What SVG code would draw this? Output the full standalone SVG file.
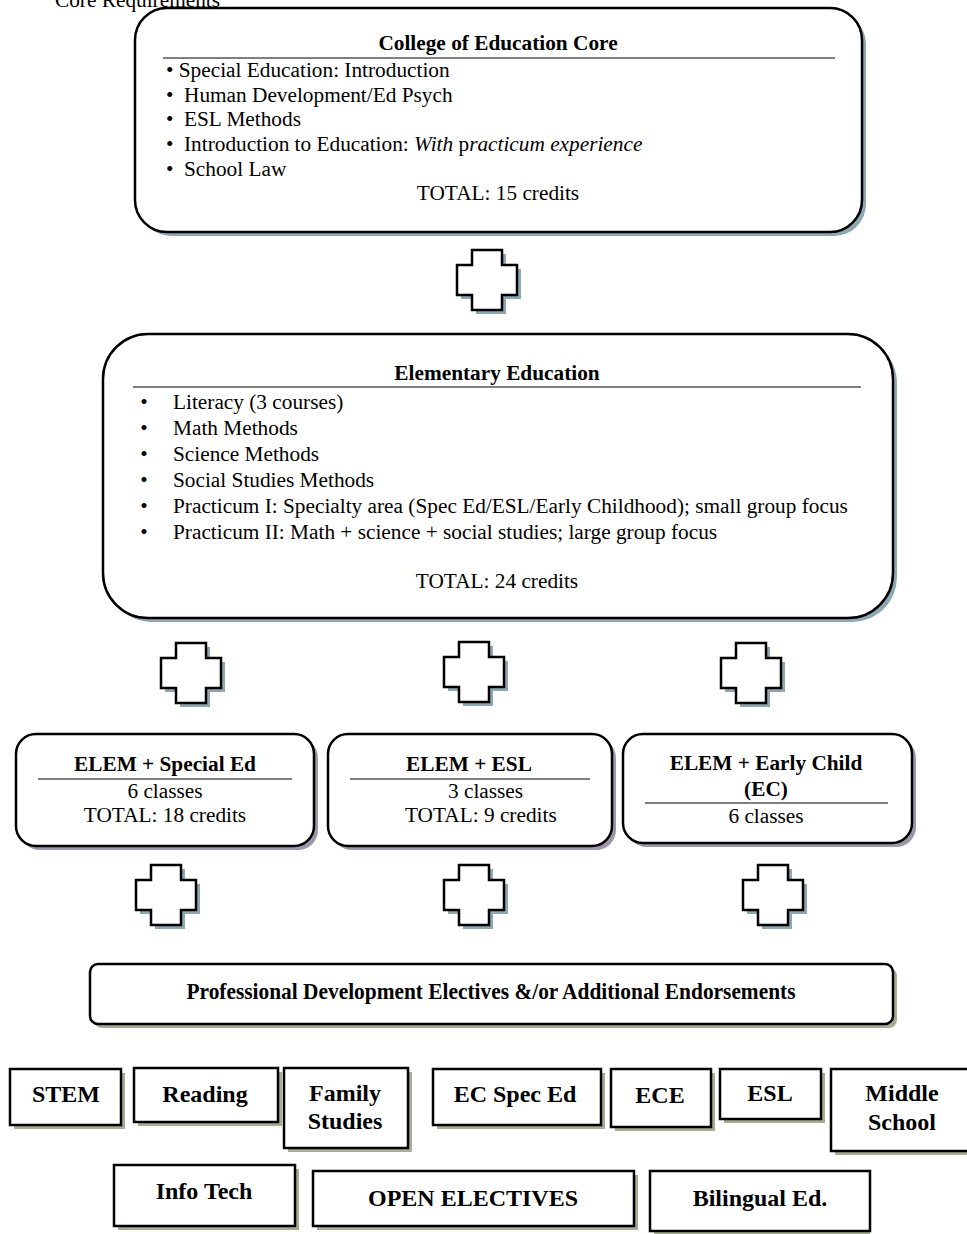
<svg xmlns="http://www.w3.org/2000/svg" width="967" height="1234" viewBox="0 0 967 1234">
<defs>
<style>
text{font-family:"Liberation Serif","Times New Roman",serif;font-size:21.3px;fill:#000}
.b{font-weight:bold}
.c{text-anchor:middle}
.i{font-style:italic}
.big{font-size:24px;font-weight:bold;text-anchor:middle}
.box{fill:#fff;stroke:#000;stroke-width:2.5}
.sh1{fill:#8ea7b1}
.sh2{fill:#9c98aa}
.sh3{fill:#a5ad92}
.rule{stroke:#555;stroke-width:1.5}
.plus{fill:#fff;stroke:#000;stroke-width:2.5;stroke-linejoin:miter}
.plush{fill:#8fa8b0}
</style>
<path id="plusShape" d="M-15,-30 h30 v15 h15 v30 h-15 v15 h-30 v-15 h-15 v-30 h15 z"/>
</defs>
<rect width="967" height="1234" fill="#fff"/>

<text x="55" y="7">Core Requirements</text>

<g id="core">
<rect class="sh1" x="139" y="12" width="727" height="224" rx="32"/>
<rect class="box" x="135" y="8" width="727" height="224" rx="32"/>
<text class="b c" x="498" y="50">College of Education Core</text>
<line class="rule" x1="163" y1="58" x2="835" y2="58"/>
<text x="166" y="77">• Special Education: Introduction</text>
<text x="166" y="102">•</text><text x="184" y="102">Human Development/Ed Psych</text>
<text x="166" y="126">•</text><text x="184" y="126">ESL Methods</text>
<text x="166" y="151">•</text><text x="184" y="151">Introduction to Education: <tspan class="i">With</tspan> p<tspan class="i">racticum experience</tspan></text>
<text x="166" y="176">•</text><text x="184" y="176">School Law</text>
<text class="c" x="498" y="200">TOTAL: 15 credits</text>
</g>

<g id="elementary">
<rect class="sh1" x="107" y="338" width="790" height="284" rx="45"/>
<rect class="box" x="103" y="334" width="790" height="284" rx="45"/>
<text class="b c" x="497" y="380">Elementary Education</text>
<line class="rule" x1="133" y1="387" x2="861" y2="387"/>
<text class="c" x="144" y="409">•</text><text x="173" y="409">Literacy (3 courses)</text>
<text class="c" x="144" y="435">•</text><text x="173" y="435">Math Methods</text>
<text class="c" x="144" y="461">•</text><text x="173" y="461">Science Methods</text>
<text class="c" x="144" y="487">•</text><text x="173" y="487">Social Studies Methods</text>
<text class="c" x="144" y="513">•</text><text x="173" y="513">Practicum I: Specialty area (Spec Ed/ESL/Early Childhood); small group focus</text>
<text class="c" x="144" y="539">•</text><text x="173" y="539">Practicum II: Math + science + social studies; large group focus</text>
<text class="c" x="497" y="588">TOTAL: 24 credits</text>
</g>

<g id="elem-sped">
<rect class="sh2" x="20" y="738" width="298" height="112" rx="20"/>
<rect class="box" x="16" y="734" width="298" height="112" rx="20"/>
<text class="b c" x="165" y="771">ELEM + Special Ed</text>
<line class="rule" x1="38" y1="779" x2="292" y2="779"/>
<text class="c" x="165" y="798">6 classes</text>
<text class="c" x="165" y="822">TOTAL: 18 credits</text>
</g>

<g id="elem-esl">
<rect class="sh2" x="332" y="738" width="284" height="112" rx="20"/>
<rect class="box" x="328" y="734" width="284" height="112" rx="20"/>
<text class="b c" x="469" y="771">ELEM + ESL</text>
<line class="rule" x1="350" y1="779" x2="590" y2="779"/>
<text x="448" y="798">3 classes</text>
<text x="405" y="822">TOTAL: 9 credits</text>
</g>

<g id="elem-ec">
<rect class="sh2" x="627" y="738" width="289" height="109" rx="20"/>
<rect class="box" x="623" y="734" width="289" height="109" rx="20"/>
<text class="b c" x="766" y="770">ELEM + Early Child</text>
<text class="b c" x="766" y="796">(EC)</text>
<line class="rule" x1="645" y1="803" x2="888" y2="803"/>
<text class="c" x="766" y="823">6 classes</text>
</g>

<g id="prof-dev">
<rect class="sh3" x="94" y="968" width="803" height="60" rx="8"/>
<rect class="box" x="90" y="964" width="803" height="60" rx="8"/>
<text class="b c" x="491" y="999" style="font-size:22.5px" textLength="609" lengthAdjust="spacingAndGlyphs">Professional Development Electives &amp;/or Additional Endorsements</text>
</g>

<g id="stem"><rect class="sh3" x="14" y="1073" width="111" height="56"/><rect class="box" x="10" y="1069" width="111" height="56"/><text class="big" x="66" y="1102">STEM</text></g>
<g id="reading"><rect class="sh3" x="138" y="1072" width="144" height="54"/><rect class="box" x="134" y="1068" width="144" height="54"/><text class="big" x="205" y="1102">Reading</text></g>
<g id="family"><rect class="sh3" x="288" y="1072" width="124" height="80"/><rect class="box" x="284" y="1068" width="124" height="80"/><text class="big" x="345" y="1101">Family</text><text class="big" x="345" y="1129">Studies</text></g>
<g id="ec-sped"><rect class="sh3" x="437" y="1073" width="168" height="56"/><rect class="box" x="433" y="1069" width="168" height="56"/><text class="big" x="515" y="1102">EC Spec Ed</text></g>
<g id="ece"><rect class="sh3" x="615" y="1073" width="100" height="58"/><rect class="box" x="611" y="1069" width="100" height="58"/><text class="big" x="660" y="1103">ECE</text></g>
<g id="esl"><rect class="sh3" x="724" y="1073" width="101" height="50"/><rect class="box" x="720" y="1069" width="101" height="50"/><text class="big" x="770" y="1101">ESL</text></g>
<g id="middle"><rect class="sh3" x="835" y="1073" width="142" height="82"/><rect class="box" x="831" y="1069" width="142" height="82"/><text class="big" x="902" y="1101">Middle</text><text class="big" x="902" y="1130">School</text></g>
<g id="infotech"><rect class="sh3" x="118" y="1169" width="181" height="61"/><rect class="box" x="114" y="1165" width="181" height="61"/><text class="big" x="204" y="1199">Info Tech</text></g>
<g id="open"><rect class="sh3" x="317" y="1175" width="321" height="55"/><rect class="box" x="313" y="1171" width="321" height="55"/><text class="big" x="473" y="1206">OPEN ELECTIVES</text></g>
<g id="bilingual"><rect class="sh3" x="654" y="1175" width="216" height="60"/><rect class="box" x="650" y="1171" width="220" height="60"/><text class="big" x="760" y="1206">Bilingual Ed.</text></g>

<g id="connectors">
<use href="#plusShape" class="plush" x="491" y="284"/><use href="#plusShape" class="plus" x="487" y="280"/>
<use href="#plusShape" class="plush" x="195" y="677"/><use href="#plusShape" class="plus" x="191" y="673"/>
<use href="#plusShape" class="plush" x="478" y="676"/><use href="#plusShape" class="plus" x="474" y="672"/>
<use href="#plusShape" class="plush" x="755" y="677"/><use href="#plusShape" class="plus" x="751" y="673"/>
<use href="#plusShape" class="plush" x="170" y="899"/><use href="#plusShape" class="plus" x="166" y="895"/>
<use href="#plusShape" class="plush" x="478" y="899"/><use href="#plusShape" class="plus" x="474" y="895"/>
<use href="#plusShape" class="plush" x="777" y="899"/><use href="#plusShape" class="plus" x="773" y="895"/>
</g>
</svg>
